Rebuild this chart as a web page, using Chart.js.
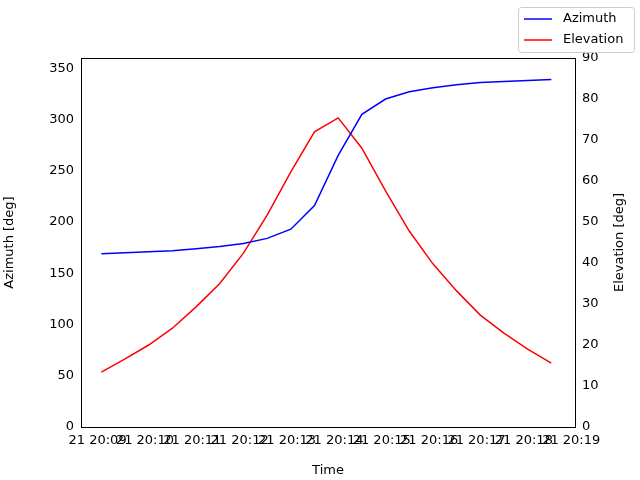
<!DOCTYPE html>
<html>
<head>
<script src="https://cdn.jsdelivr.net/npm/chart.js@4"></script>
<style>body{margin:0;background:#fff}#wrap{width:640px;height:480px}</style>
</head>
<body>
<div id="wrap"><canvas id="c" width="640" height="480"></canvas></div>
<script>
// minutes after 20:09 on day 21
const times = [0.08,0.58,1.08,1.58,2.08,2.58,3.08,3.58,4.08,4.58,5.08,5.58,6.08,6.58,7.08,7.58,8.08,8.58,9.08,9.58];
const azimuth = [169,170,171,172,174,176,179,184,193,216,265,305,320,327,331,334,336,337,338,339];
const elevation = [13.4,16.6,20,24.1,29.3,35,42.4,51.7,62.2,72,75.4,68,57.6,47.8,39.8,33.2,27.3,22.9,19,15.6];
const tickLabels = ['21 20:09','21 20:10','21 20:11','21 20:12','21 20:13','21 20:14','21 20:15','21 20:16','21 20:17','21 20:18','21 20:19'];
const azTicks = [0,50,100,150,200,250,300,350];

Chart.defaults.font.family = 'DejaVu Sans';
Chart.defaults.font.size = 13;
Chart.defaults.color = '#000';

new Chart(document.getElementById('c'), {
  type: 'line',
  data: {
    datasets: [
      {label: 'Azimuth', data: times.map((t, i) => ({x: t, y: azimuth[i]})), borderColor: 'blue', borderWidth: 1.5, pointRadius: 0, yAxisID: 'y'},
      {label: 'Elevation', data: times.map((t, i) => ({x: t, y: elevation[i]})), borderColor: 'red', borderWidth: 1.5, pointRadius: 0, yAxisID: 'y1'}
    ]
  },
  options: {
    responsive: false,
    animation: false,
    layout: {padding: {left: 0, right: 0, top: 58, bottom: 0}},
    plugins: {legend: {display: false}, tooltip: {enabled: false}},
    scales: {
      x: {
        type: 'linear', min: -0.35, max: 10.08,
        afterBuildTicks: s => { s.ticks = tickLabels.map((l, i) => ({value: i})); },
        afterFit: s => { s.height = 53; },
        ticks: {autoSkip: false, maxRotation: 0, padding: 2, callback: (v, i) => tickLabels[i]},
        grid: {display: false, tickLength: 4},
        border: {color: '#000'},
        title: {display: true, text: 'Time', padding: 2}
      },
      y: {
        position: 'left', min: 0, max: 360,
        afterBuildTicks: s => { s.ticks = azTicks.map(v => ({value: v})); },
        afterFit: s => { s.width = 81; },
        grid: {display: false, tickLength: 4},
        border: {color: '#000'},
        title: {display: true, text: 'Azimuth [deg]', padding: 2}
      },
      y1: {
        position: 'right', min: 0, max: 90,
        ticks: {stepSize: 10},
        afterFit: s => { s.width = 65; },
        grid: {display: false, tickLength: 4},
        border: {color: '#000'}
      }
    }
  },
  plugins: [{
    id: 'extras',
    afterDraw(ch) {
      const a = ch.chartArea, c = ch.ctx;
      c.save(); c.strokeStyle = '#000'; c.lineWidth = 1;
      c.beginPath(); c.moveTo(a.left, a.top + 0.5); c.lineTo(a.right, a.top + 0.5); c.stroke();
      // right axis title, reading bottom to top
      c.fillStyle = '#000'; c.font = '13px "DejaVu Sans"';
      c.translate(620, (a.top + a.bottom) / 2); c.rotate(-Math.PI / 2);
      c.textAlign = 'center'; c.textBaseline = 'middle';
      c.fillText('Elevation [deg]', 0, 0);
      c.restore();
      // legend box
      c.save();
      c.fillStyle = 'rgba(255,255,255,0.8)'; c.strokeStyle = '#ccc';
      c.beginPath(); c.roundRect(518.5, 7.5, 116, 45, 3); c.fill(); c.stroke();
      ch.data.datasets.forEach((d, i) => {
        const y = 19 + i * 21;
        c.strokeStyle = d.borderColor; c.lineWidth = 1.5;
        c.beginPath(); c.moveTo(524, y); c.lineTo(552, y); c.stroke();
        c.fillStyle = '#000'; c.font = '13px "DejaVu Sans"'; c.textBaseline = 'middle';
        c.fillText(d.label, 563, y);
      });
      c.restore();
    }
  }]
});
</script>
</body>
</html>
